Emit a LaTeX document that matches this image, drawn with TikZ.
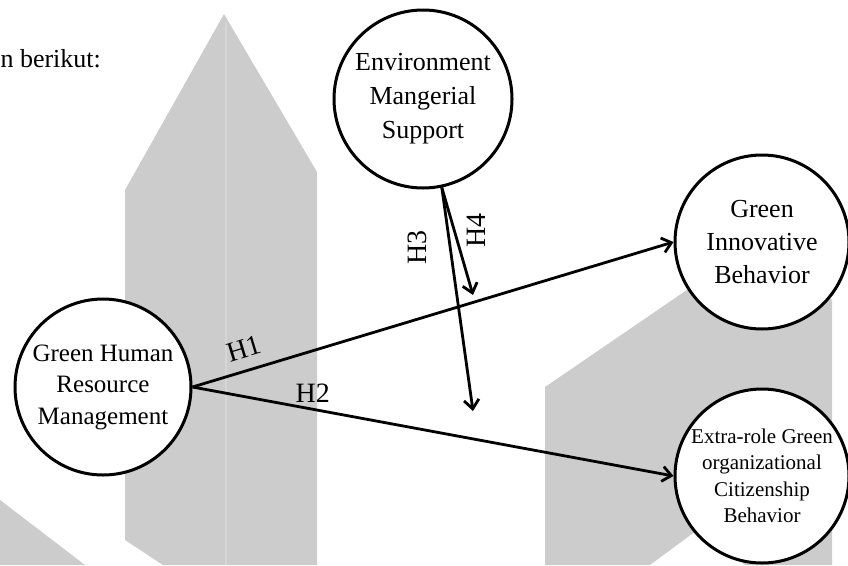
\documentclass[tikz,border=0pt]{standalone}
\usepackage{fontspec}
\setmainfont{Liberation Serif}
\usetikzlibrary{arrows.meta}
\definecolor{wmgray}{RGB}{204,204,204}
\definecolor{wmline}{RGB}{214,214,214}

\begin{document}
\begin{tikzpicture}[x=1pt, y=-1pt, >={Straight Barb[length=9pt,width=15pt]},
    var/.style={circle, draw, line width=3pt, fill=white, inner sep=0pt, minimum size=#1, align=center},
    hyp/.style={->, line width=2.8pt},
    hlab/.style={font=\fontsize{28}{28}\selectfont}]
    \useasboundingbox (0,0) rectangle (848,565);
    % watermark behind the model
    \fill[wmgray] (125,540) -- (125,190) -- (224,14) -- (317,172) -- (317,565) -- (163,565) -- cycle;
    \draw[wmline, line width=2pt] (226,22) -- (226,565);
    \fill[wmgray] (0,500) -- (85,565) -- (0,565) -- cycle;
    \fill[wmgray] (545,565) -- (545,387) -- (760,240) -- (832,300) -- (832,565) -- (745,565) -- (700,528) -- (650,565) -- cycle;
    \node[anchor=west, font=\fontsize{26}{32}\selectfont] (intro) at (-3,59) {n berikut:};
    % variables
    \node[var=178pt, font=\fontsize{26}{34}\selectfont] (ems) at (423,99) {Environment\\Mangerial\\Support};
    \node[var=176pt, font=\fontsize{25}{31.5}\selectfont] (ghrm) at (103,387) {Green Human\\Resource\\Management};
    \node[var=174pt, font=\fontsize{26}{33}\selectfont] (gib) at (762,242) {Green\\Innovative\\Behavior};
    \node[var=174pt, font=\fontsize{21}{26.5}\selectfont] (eocb) at (762,476) {Extra-role Green\\organizational\\Citizenship\\Behavior};
    \coordinate (h3end) at (473,411);
    \coordinate (h4end) at (473,295);
    % hypotheses
    \draw[hyp] (ghrm.east) -- node[pos=0.12, above=8pt, sloped, hlab] (h1) {H1} (gib.west);
    \draw[hyp] (ghrm.east) -- node[pos=0.25, above=2pt, hlab] (h2) {H2} (eocb.west);
    \draw[hyp] (ems.-78) -- node[pos=0.27, xshift=-33pt, rotate=90, hlab] (h3) {H3} (h3end);
    \draw[hyp] (ems.-78) -- node[pos=0.4, xshift=22pt, rotate=90, hlab] (h4) {H4} (h4end);
\end{tikzpicture}
\end{document}
